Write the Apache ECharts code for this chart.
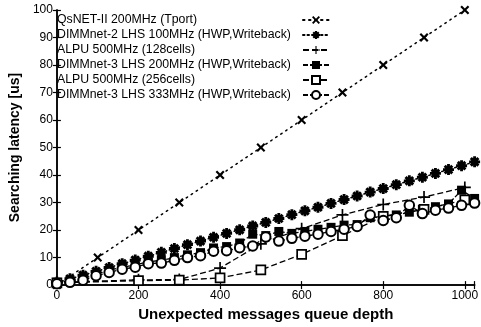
<!DOCTYPE html>
<html>
<head>
  <meta charset="utf-8">
</head>
<body style="margin: 0; width: 481px; height: 327px; background: #fff;">
  <div id="container" style="width: 481px; height: 327px;"></div>
  <script src="https://cdn.jsdelivr.net/npm/echarts@6/dist/echarts.min.js"></script>
  <script>
    // queue depths
    var depth32 = [0, 32, 64, 96, 128, 160, 192, 224, 256, 288, 320, 352, 384, 416, 448, 480, 512,
      544, 576, 608, 640, 672, 704, 736, 768, 800, 832, 864, 896, 928, 960, 992, 1024];
    var depth100 = [0, 100, 200, 300, 400, 500, 600, 700, 800, 900, 1000];
    var depthAlpu = [0, 200, 300, 400, 500, 600, 700, 800, 900, 1000];

    var seriesNames = [
      'QsNET-II 200MHz (Tport)',
      'DIMMnet-2 LHS 100MHz (HWP,Writeback)',
      'ALPU 500MHz (128cells)',
      'DIMMnet-3 LHS 200MHz (HWP,Writeback)',
      'ALPU 500MHz (256cells)',
      'DIMMnet-3 LHS 333MHz (HWP,Writeback)'
    ];

    // latency [us]
    var qsnet = [0, 10, 20, 30, 40, 50, 60, 70, 80, 90, 100];
    var dimm2 = [1.0, 2.3, 3.6, 5.0, 6.4, 7.8, 9.1, 10.5, 11.9, 13.3, 14.7, 16.0, 17.4, 18.8, 20.1, 21.5, 22.8,
      24.2, 25.6, 27.0, 28.3, 29.7, 31.1, 32.4, 33.8, 35.1, 36.5, 37.9, 39.2, 40.6, 42.0, 43.4, 44.8];
    var alpu128 = [1.0, 1.9, 2.0, 6.2, 15.0, 20.5, 25.5, 29.3, 32.0, 35.5];
    var dimm3_200 = [1.0, 1.5, 2.3, 4.0, 5.3, 6.5, 7.3, 8.5, 9.0, 10.0, 11.0, 11.8, 13.5, 14.0, 15.3, 18.5, 18.0,
      19.5, 18.8, 19.5, 20.3, 21.0, 21.8, 22.0, 24.5, 25.0, 25.5, 26.5, 27.5, 28.5, 29.5, 34.5, 31.5];
    var alpu256 = [0.8, 1.6, 1.8, 2.6, 5.5, 11.2, 18.0, 25.0, 27.5, 31.0];
    var dimm3_333 = [0.5, 1.0, 1.8, 3.4, 4.6, 5.8, 6.5, 7.8, 8.0, 9.0, 10.0, 10.7, 12.3, 12.5, 13.6, 14.2, 17.5,
      16.0, 17.0, 17.8, 18.5, 19.5, 20.3, 21.3, 25.5, 23.5, 24.5, 29.0, 26.0, 27.2, 28.0, 29.0, 29.8];

    function zip(xs, ys) {
      return xs.map(function (x, i) { return [x, ys[i]]; });
    }

    var crossPath = 'path://M0,1.7 L1.7,0 L5,3.3 L8.3,0 L10,1.7 L6.7,5 L10,8.3 L8.3,10 L5,6.7 L1.7,10 L0,8.3 L3.3,5 Z';
    var starPath = 'path://M3.7,0 L6.3,0 L6.3,10 L3.7,10 Z M0,3.7 L10,3.7 L10,6.3 L0,6.3 Z ' +
      'M0.6,2.5 L2.5,0.6 L9.4,7.5 L7.5,9.4 Z M7.5,0.6 L9.4,2.5 L2.5,9.4 L0.6,7.5 Z ' +
      'M2.5,2.5 L7.5,2.5 L7.5,7.5 L2.5,7.5 Z';
    var plusPath = 'path://M4.3,0 L5.7,0 L5.7,10 L4.3,10 Z M0,4.3 L10,4.3 L10,5.7 L0,5.7 Z';

    var font = "'Liberation Sans', Arial, sans-serif";

    function line(name, data, symbol, size, itemStyle, lineStyle) {
      return {
        name: name,
        type: 'line',
        data: data,
        symbol: symbol,
        symbolSize: size,
        showAllSymbol: true,
        itemStyle: itemStyle,
        lineStyle: lineStyle,
        emphasis: { disabled: true }
      };
    }

    var chart = echarts.init(document.getElementById('container'), null, { renderer: 'canvas' });

    var axisCommon = {
      type: 'value',
      axisLine: { show: true, lineStyle: { color: '#000', width: 1.5 } },
      axisTick: { show: true, inside: true, length: 4, lineStyle: { color: '#000', width: 1.2 } },
      splitLine: { show: false }
    };

    var option = {
      animation: false,
      backgroundColor: '#fff',
      grid: { left: 50, right: 6, top: 10, bottom: 37 },
      legend: {
        orient: 'vertical',
        left: 52,
        top: 8,
        align: 'right',
        itemWidth: 26,
        itemHeight: 10,
        itemGap: 1,
        formatter: function (name) { return '{t|' + name + '}'; },
        textStyle: {
          fontFamily: font, fontSize: 12, color: '#000', lineHeight: 14,
          rich: { t: { width: 241, align: 'left', fontFamily: font, fontSize: 12.3, color: '#000', lineHeight: 14 } }
        },
        data: seriesNames
      },
      xAxis: [
        Object.assign({}, axisCommon, {
          min: 0, max: 1024, interval: 200,
          name: 'Unexpected messages queue depth',
          nameLocation: 'middle',
          nameGap: 18,
          nameTextStyle: { fontFamily: font, fontSize: 15, fontWeight: 'bold', color: '#000' },
          axisLabel: {
            fontFamily: font, fontSize: 12, color: '#000', margin: 5,
            formatter: function (v) { return v % 200 === 0 ? v : ''; }
          }
        }),
        Object.assign({}, axisCommon, {
          position: 'top', min: 0, max: 1024, interval: 200,
          axisLabel: { show: false }
        })
      ],
      yAxis: [
        Object.assign({}, axisCommon, {
          min: 0, max: 100, interval: 10,
          name: 'Searching latency [us]',
          nameLocation: 'middle',
          nameGap: 29,
          nameTextStyle: { fontFamily: font, fontSize: 14, fontWeight: 'bold', color: '#000' },
          axisLabel: { fontFamily: font, fontSize: 12, color: '#000', margin: 4 }
        }),
        Object.assign({}, axisCommon, {
          position: 'right', min: 0, max: 100, interval: 10,
          axisLabel: { show: false }
        })
      ],
      series: [
        line(seriesNames[0], zip(depth100, qsnet), crossPath, 9,
          { color: '#000' },
          { color: '#000', width: 1.5, type: [1.5, 4.5], cap: 'round' }),
        line(seriesNames[1], zip(depth32, dimm2), starPath, 11,
          { color: '#000' },
          { color: '#000', width: 1.5, type: [1.5, 3], cap: 'round' }),
        line(seriesNames[2], zip(depthAlpu, alpu128), plusPath, 12,
          { color: '#000' },
          { color: '#000', width: 1.3, type: [6, 3] }),
        line(seriesNames[3], zip(depth32, dimm3_200), 'rect', 9,
          { color: '#000' },
          { color: '#000', width: 1.3, type: [5, 2] }),
        line(seriesNames[4], zip(depthAlpu, alpu256), 'rect', 9,
          { color: '#fff', borderColor: '#000', borderWidth: 1.7 },
          { color: '#000', width: 1.3, type: [6, 3] }),
        line(seriesNames[5], zip(depth32, dimm3_333), 'circle', 9.5,
          { color: '#fff', borderColor: '#000', borderWidth: 2 },
          { color: '#000', width: 1.3, type: [5, 2] })
      ]
    };

    chart.setOption(option);
  </script>
</body>
</html>
